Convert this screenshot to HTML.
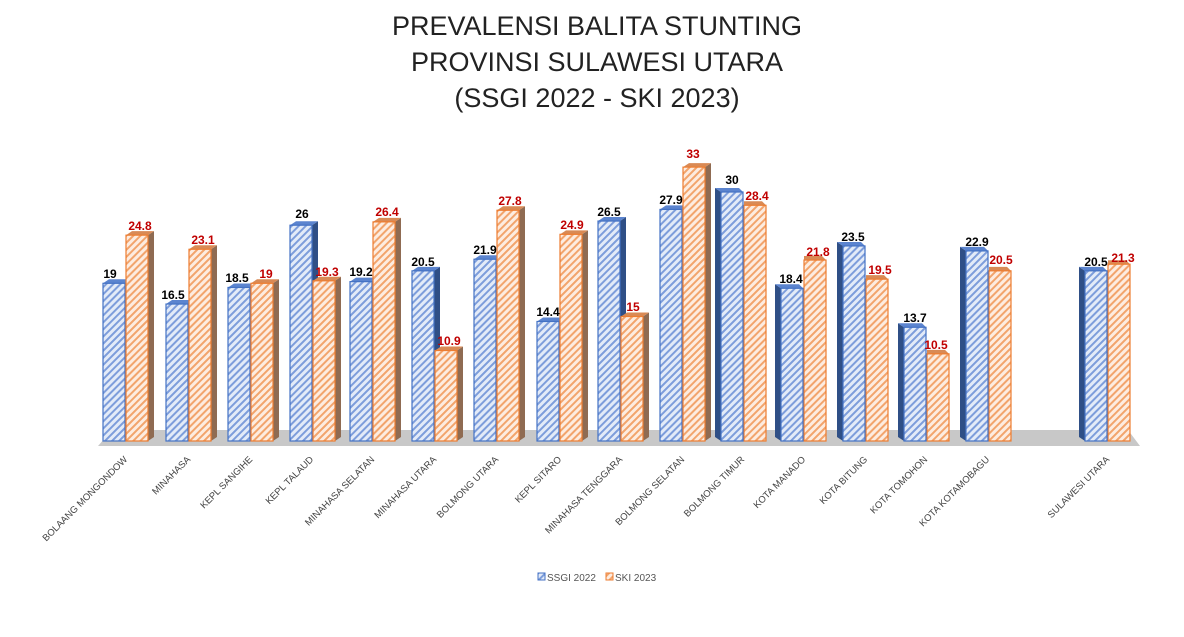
<!DOCTYPE html>
<html><head><meta charset="utf-8"><style>
body{margin:0;background:#fff;}
svg text{font-family:"Liberation Sans",sans-serif;}
</style></head><body>
<svg id="s" width="1184" height="632" xmlns="http://www.w3.org/2000/svg">
<defs>
<pattern id="pb" width="5" height="5" patternUnits="userSpaceOnUse" patternTransform="rotate(45)">
<rect width="5" height="5" fill="#e3ebf8"/><rect width="2" height="5" fill="#7d9ddb"/></pattern>
<pattern id="po" width="5" height="5" patternUnits="userSpaceOnUse" patternTransform="rotate(45)">
<rect width="5" height="5" fill="#fdece0"/><rect width="2" height="5" fill="#f2a46c"/></pattern>
</defs>
<rect width="1184" height="632" fill="#fff"/>
<text x="597" y="35" font-size="27" text-anchor="middle" fill="#222">PREVALENSI BALITA STUNTING</text>
<text x="597" y="71" font-size="27" text-anchor="middle" fill="#222">PROVINSI SULAWESI UTARA</text>
<text x="597" y="107" font-size="27" text-anchor="middle" fill="#222">(SSGI 2022 - SKI 2023)</text>
<polygon points="98,446 1140,446 1128,430 112,430" fill="#c8c8c8"/>
<g id="bars"></g>
<g font-size="12" font-weight="bold" text-anchor="middle">
<text x="110" y="278">19</text><text x="140" y="230" fill="#c00000">24.8</text>
<text x="173" y="299">16.5</text><text x="203" y="244" fill="#c00000">23.1</text>
<text x="237" y="282">18.5</text><text x="266" y="278" fill="#c00000">19</text>
<text x="302" y="218">26</text><text x="327" y="276" fill="#c00000">19.3</text>
<text x="361" y="276">19.2</text><text x="387" y="216" fill="#c00000">26.4</text>
<text x="423" y="266">20.5</text><text x="449" y="345" fill="#c00000">10.9</text>
<text x="485" y="254">21.9</text><text x="510" y="205" fill="#c00000">27.8</text>
<text x="548" y="316">14.4</text><text x="572" y="229" fill="#c00000">24.9</text>
<text x="609" y="216">26.5</text><text x="633" y="311" fill="#c00000">15</text>
<text x="671" y="204">27.9</text><text x="693" y="158" fill="#c00000">33</text>
<text x="732" y="184">30</text><text x="757" y="200" fill="#c00000">28.4</text>
<text x="791" y="283">18.4</text><text x="818" y="256" fill="#c00000">21.8</text>
<text x="853" y="241">23.5</text><text x="880" y="274" fill="#c00000">19.5</text>
<text x="915" y="322">13.7</text><text x="936" y="349" fill="#c00000">10.5</text>
<text x="977" y="246">22.9</text><text x="1001" y="264" fill="#c00000">20.5</text>
<text x="1096" y="266">20.5</text><text x="1123" y="262" fill="#c00000">21.3</text>
</g>
<g font-size="9.5" fill="#444" text-anchor="end">
<text transform="translate(128,460) rotate(-45)">BOLAANG MONGONDOW</text>
<text transform="translate(191,460) rotate(-45)">MINAHASA</text>
<text transform="translate(253,460) rotate(-45)">KEPL SANGIHE</text>
<text transform="translate(314,460) rotate(-45)">KEPL TALAUD</text>
<text transform="translate(375,460) rotate(-45)">MINAHASA SELATAN</text>
<text transform="translate(437,460) rotate(-45)">MINAHASA UTARA</text>
<text transform="translate(499,460) rotate(-45)">BOLMONG UTARA</text>
<text transform="translate(562,460) rotate(-45)">KEPL SITARO</text>
<text transform="translate(623,460) rotate(-45)">MINAHASA TENGGARA</text>
<text transform="translate(685,460) rotate(-45)">BOLMONG SELATAN</text>
<text transform="translate(745,460) rotate(-45)">BOLMONG TIMUR</text>
<text transform="translate(806,460) rotate(-45)">KOTA MANADO</text>
<text transform="translate(868,460) rotate(-45)">KOTA BITUNG</text>
<text transform="translate(928,460) rotate(-45)">KOTA TOMOHON</text>
<text transform="translate(990,460) rotate(-45)">KOTA KOTAMOBAGU</text>
<text transform="translate(1110,460) rotate(-45)">SULAWESI UTARA</text>
</g>
<rect x="538" y="573" width="7" height="7" fill="url(#pb)" stroke="#4472c4"/>
<text x="547" y="581" font-size="10" fill="#555">SSGI 2022</text>
<rect x="606" y="573" width="7" height="7" fill="url(#po)" stroke="#ed7d31"/>
<text x="615" y="581" font-size="10" fill="#555">SKI 2023</text>
</svg>
<script>
var d=[[19,24.8,103],[16.5,23.1,166],[18.5,19,228],[26,19.3,290],[19.2,26.4,350],[20.5,10.9,412],[21.9,27.8,474],[14.4,24.9,537],[26.5,15,598],[27.9,33,660],[30,28.4,721],[18.4,21.8,781],[23.5,19.5,843],[13.7,10.5,904],[22.9,20.5,966],[20.5,21.3,1085]];
var B=441,k=8.3,w=22,h="";
function bar(x,v,pat,st,side,top,right,noside){var t=B-v*k;var s="";
if(right){s+='<polygon points="'+(x+w)+','+t+' '+(x+w+6)+','+(t-4)+' '+(x+w+6)+','+(B-4)+' '+(x+w)+','+B+'" fill="'+side+'"/>';
s+='<polygon points="'+x+','+t+' '+(x+w)+','+t+' '+(x+w+6)+','+(t-4)+' '+(x+6)+','+(t-4)+'" fill="'+top+'"/>';}
else{if(!noside)s+='<polygon points="'+x+','+t+' '+(x-6)+','+(t-4)+' '+(x-6)+','+(B-4)+' '+x+','+B+'" fill="'+side+'"/>';
s+='<polygon points="'+x+','+t+' '+(x+w)+','+t+' '+(x+w-4)+','+(t-4)+' '+(x-(noside?0:6))+','+(t-4)+'" fill="'+top+'"/>';}
s+='<rect x="'+x+'" y="'+t+'" width="'+w+'" height="'+(B-t)+'" fill="url(#'+pat+')" stroke="'+st+'" stroke-width="1.2"/>';return s;}
d.forEach(function(r,i){var right=i<10;
var a=bar(r[2],r[0],"pb","#4472c4","#2f4f86","#5b84cf",right,false);
var b=bar(r[2]+w+1,r[1],"po","#ed7d31","#8f6b52","#d98a55",right,true);
h+= right?(a+b):(b+a);});
document.getElementById("bars").innerHTML=h;
</script>
</body></html>
